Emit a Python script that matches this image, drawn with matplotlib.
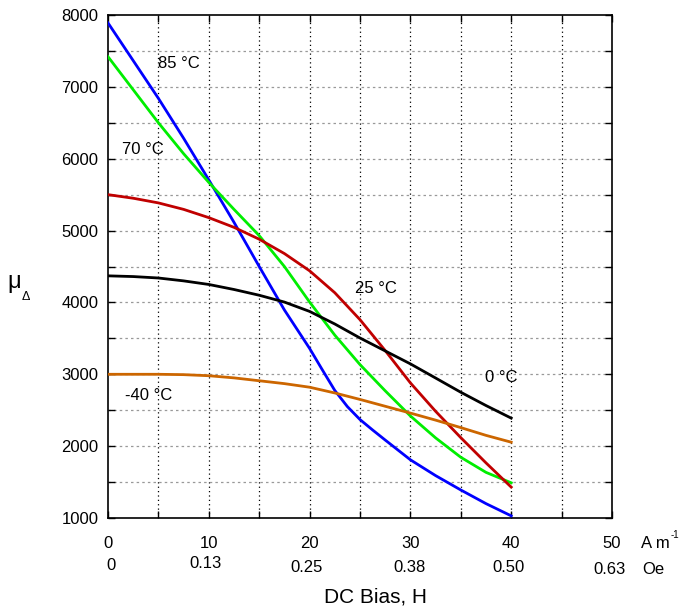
import matplotlib.pyplot as plt
from matplotlib.ticker import MultipleLocator

plt.rcParams['font.family'] = ['Liberation Sans', 'DejaVu Sans']

# DC bias H (A/m) sampling points
h = [0, 2.5, 5, 7.5, 10, 12.5, 15, 17.5, 20, 22.5, 25, 27.5, 30, 32.5, 35, 37.5, 40]
h_85 = [0, 2.5, 5, 7.5, 10, 12.5, 15, 17.5, 20, 21.25, 22.5, 23.75, 25, 26.25, 27.5, 30, 32.5, 35, 37.5, 40]

mu_85 = [7890, 7365, 6840, 6285, 5705, 5115, 4500, 3895, 3360, 3065, 2775, 2550, 2370, 2225, 2085, 1810, 1590, 1390, 1200, 1030]
mu_70 = [7420, 6960, 6500, 6070, 5670, 5295, 4930, 4500, 4005, 3545, 3135, 2770, 2420, 2115, 1845, 1635, 1490]
mu_25 = [5500, 5450, 5385, 5295, 5180, 5045, 4880, 4680, 4440, 4135, 3760, 3330, 2880, 2485, 2118, 1767, 1430]
mu_0 = [4370, 4360, 4340, 4300, 4250, 4180, 4100, 4005, 3875, 3700, 3505, 3325, 3145, 2948, 2750, 2565, 2390]
mu_m40 = [3000, 3000, 3000, 2995, 2980, 2950, 2910, 2870, 2820, 2740, 2650, 2555, 2460, 2362, 2258, 2150, 2055]

curves = [
    (h_85, mu_85, "#0000ff"),
    (h, mu_70, "#00ee00"),
    (h, mu_25, "#c00000"),
    (h, mu_0, "#000000"),
    (h, mu_m40, "#cc6600"),
]

labels = [("85 °C", 4.95, 7330), ("70 °C", 1.35, 6130), ("25 °C", 24.5, 4200),
          ("0 °C", 37.4, 2950), ("-40 °C", 1.7, 2700)]

am_ticks = [0, 10, 20, 30, 40, 50]
oe_labels = ["0", "0.13", "0.25", "0.38", "0.50", "0.63"]
oe_pos = [0.3, 9.7, 19.7, 29.9, 39.7, 49.8]
oe_ypix = [565, 564, 567, 568, 568, 570]

fig = plt.figure(figsize=(6.83, 6.09), dpi=100)
ax = fig.add_axes([108 / 683, 91 / 609, 504 / 683, 503 / 609])

# grille pointillée
for x in range(5, 50, 5):
    ax.axvline(x, color="black", lw=0.9, ls=(0, (1, 2.5)), zorder=0)
for y in range(1500, 8000, 500):
    ax.axhline(y, color="#999999", lw=0.9, ls=(0, (2, 2.5)), zorder=0)

for hx, vals, col in curves:
    ax.plot(hx, vals, color=col, lw=2, zorder=3)

for txt, x, y in labels:
    ax.text(x, y, txt, fontsize=12, ha="left", va="center")

ax.set_xlim(0, 50)
ax.set_ylim(1000, 8000)
ax.xaxis.set_minor_locator(MultipleLocator(5))
ax.yaxis.set_major_locator(MultipleLocator(1000))
ax.yaxis.set_minor_locator(MultipleLocator(500))
ax.tick_params(which="both", direction="in", top=True, right=True, length=5, width=1, labelsize=12)
ax.tick_params(axis="y", which="major", pad=7)
ax.tick_params(axis="x", which="major", pad=13)
ax.set_xticks(am_ticks)
ax.set_xticklabels([str(t) for t in am_ticks])

for sp in ax.spines.values():
    sp.set_linewidth(1.2)

# deuxième ligne de graduations (Oe)
for lab, x, yp in zip(oe_labels, oe_pos, oe_ypix):
    fig.text((108 + x * 10.08) / 683, 1 - yp / 609, lab, fontsize=12, ha="center", va="center")

fig.text(641 / 683, 1 - 543 / 609, "A m", fontsize=12, ha="left", va="center")
fig.text(671 / 683, 1 - 535 / 609, "-1", fontsize=7, ha="left", va="center")
fig.text(642 / 683, 1 - 570 / 609, "Oe", fontsize=12, ha="left", va="center")
fig.text(376 / 683, 1 - 597 / 609, "DC Bias, H", fontsize=15, ha="center", va="center")

fig.text(7 / 683, 1 - 282 / 609, "μ", fontsize=17, ha="left", va="center")
fig.text(22 / 683, 1 - 297 / 609, "Δ", fontsize=9, ha="left", va="center")

fig.savefig("out.png", dpi=100)
